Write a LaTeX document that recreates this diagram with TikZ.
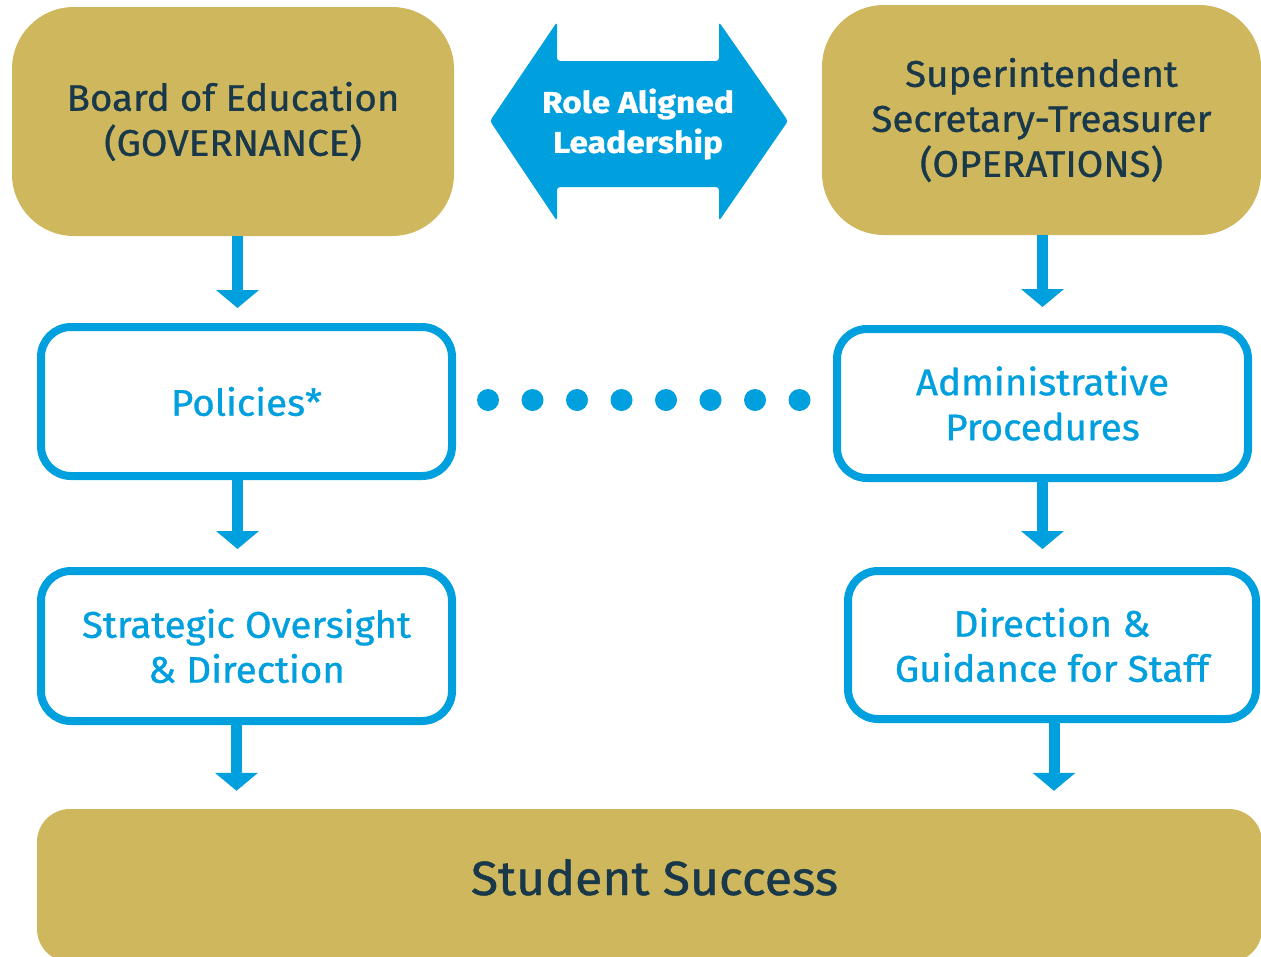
\documentclass[tikz,border=0pt]{standalone}
\usepackage{fontspec}
\setmainfont{Fira Sans}[FakeStretch=1.04, FakeBold=0.9]
\usetikzlibrary{arrows.meta}
\definecolor{gold}{HTML}{CEB75D}
\definecolor{bblue}{HTML}{009FDE}
\definecolor{navy}{HTML}{19394A}
\tikzset{
  goldbox/.style={fill=gold, text=navy, align=center, inner sep=0pt,
    font=\fontsize{37}{45}\selectfont},
  bluebox/.style={draw=bblue, line width=8pt, fill=white, rounded corners=30pt,
    text=bblue, align=center, inner sep=0pt, font=\fontsize{37}{45}\selectfont},
  flow/.style={draw=bblue, line width=11pt, -{Triangle[width=42pt,length=18pt]}},
  dotrow/.style={draw=bblue, line width=22pt, line cap=round, dash pattern=on 0pt off 44.5pt},
  dblarrow/.style={fill=bblue, rounded corners=3pt},
}
\begin{document}
\begin{tikzpicture}[x=1pt,y=-1pt]
\useasboundingbox (0,0) rectangle (1261,956);
\clip (0,0) rectangle (1261,956);

% top boxes
\node[goldbox, rounded corners=62pt, minimum width=442pt, minimum height=229pt]
  (board) at (233,121.5) {Board of Education\\(GOVERNANCE)};
\node[goldbox, rounded corners=62pt, minimum width=439pt, minimum height=230pt]
  (super) at (1041.5,120) {Superintendent\\Secretary-Treasurer\\(OPERATIONS)};

% double arrow
\fill[dblarrow] (490,121) -- (557,22) -- (557,61) -- (719,61) -- (719,22) -- (788,121)
  -- (719,221) -- (719,187) -- (557,187) -- (557,221) -- cycle;
\node[text=white, align=center, font=\fontsize{30}{40}\bfseries\selectfont\addfontfeature{FakeStretch=1.12}]
  (ral) at (638,124) {Role Aligned\\Leadership};

% blue boxes
\node[bluebox, minimum width=411pt, minimum height=149pt] (policies) at (246.5,401.5) {Policies*};
\node[bluebox, minimum width=411pt, minimum height=149pt] (admin) at (1042.5,403.5) {Administrative\\Procedures};
\node[bluebox, minimum width=411pt, minimum height=150pt] (strategic) at (246.5,646) {Strategic Oversight\\\& Direction};
\node[bluebox, minimum width=408pt, minimum height=148pt] (direction) at (1052,645) {Direction \&\\Guidance for Staff};

% bottom box
\node[fill=gold, rounded corners=33pt, minimum width=1225pt, minimum height=153pt, inner sep=0pt]
  (success) at (649.5,885.5) {};
\node[text=navy, font=\fontsize{48}{50}\selectfont, inner sep=0pt, anchor=base]
  (successlabel) at (654.5,895) {Student Success};

% connectors
\coordinate (a1) at ([xshift=4.5pt]board.south);
\coordinate (a2) at ([xshift=-9pt]policies.south);
\coordinate (a3) at ([xshift=-10pt]strategic.south);
\coordinate (b1) at ([xshift=1pt]super.south);
\coordinate (b2) at (admin.south);
\coordinate (b3) at ([xshift=2pt]direction.south);
\draw[flow, shorten >=15pt] (a1) -- (a1 |- policies.north);
\draw[flow, shorten >=18pt] (a2) -- (a2 |- strategic.north);
\draw[flow, shorten >=18pt] (a3) -- (a3 |- success.north);
\draw[flow, shorten >=18pt] (b1) -- (b1 |- admin.north);
\draw[flow, shorten >=18pt] (b2) -- (b2 |- direction.north);
\draw[flow, shorten >=18pt] (b3) -- (b3 |- success.north);

% dotted link
\coordinate (d0) at ([yshift=1.5pt]policies.east);
\draw[dotrow, shorten <=32pt, shorten >=20pt] (d0) -- (d0 -| admin.west);
\end{tikzpicture}
\end{document}
